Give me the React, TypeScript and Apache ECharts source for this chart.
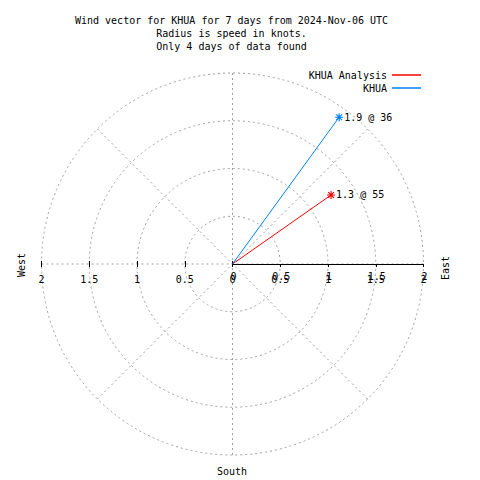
import React, { useEffect, useRef } from 'react';
import * as echarts from 'echarts';

const titleLines = [
  'Wind vector for KHUA for 7 days from 2024-Nov-06 UTC',
  'Radius is speed in knots.',
  'Only 4 days of data found',
];
const seriesNames = ['KHUA Analysis', 'KHUA'];
const speeds = [1.26, 1.9];
const directions = [55, 36];
const seriesColors = ['#ff0000', '#0080ff'];
const radiusMax = 2;
const radiusStep = 0.5;
const spokeStep = 45;
const compassWest = 'West';
const compassEast = 'East';
const compassSouth = 'South';

const FONT = '"DejaVu Sans Mono", "Liberation Mono", monospace';
const GRAY = '#a0a0a0';
const CX = 232.5;
const CY = 264;
const R = 191;

const asterisk =
  'path://M3,0h1v7h-1z M0,3h7v1h-7z M0.6,1.3L1.3,0.6L6.4,5.7L5.7,6.4z M5.7,0.6L6.4,1.3L1.3,6.4L0.6,5.7z';

export default function App() {
  const ref = useRef<HTMLDivElement>(null);
  useEffect(() => {
    document.body.style.margin = '0';
    if (!ref.current) return;
    const chart = echarts.init(ref.current, null, { renderer: 'svg' });
    const dash = { color: GRAY, type: [2, 3] as any, width: 1 };
    const tickStyle = { color: '#000', width: 1 };
    const labelBase = { fontFamily: FONT, fontSize: 10, color: '#000' };

    const fmtAbs = (v: number) => String(Math.abs(v));
    const H = 100;

    const option: any = {
      animation: false,
      backgroundColor: '#fff',
      polar: { center: [CX, CY], radius: R },
      angleAxis: {
        type: 'value',
        min: 0,
        max: 360,
        interval: spokeStep,
        startAngle: 90,
        clockwise: true,
        axisLine: { show: false },
        axisTick: { show: false },
        axisLabel: { show: false },
        splitLine: { show: true, lineStyle: dash },
      },
      radiusAxis: {
        type: 'value',
        min: 0,
        max: radiusMax,
        interval: radiusStep,
        axisLine: { show: false },
        axisTick: { show: false },
        axisLabel: { show: false },
        splitLine: { show: true, lineStyle: dash },
      },
      grid: [
        { left: CX - R, width: R, top: CY - H, height: H },
        { left: CX - R, width: R, top: CY, height: H },
        { left: CX, width: R, top: CY - H, height: H },
        { left: CX + 1, width: R, top: CY, height: H },
      ],
      xAxis: [
        {
          gridIndex: 0, type: 'value', min: -radiusMax, max: 0, interval: radiusStep, position: 'bottom',
          axisLine: { show: false, onZero: false },
          axisTick: { show: true, length: 3, lineStyle: tickStyle },
          axisLabel: { ...labelBase, margin: 10, formatter: (v: number) => (v === 0 ? '' : fmtAbs(v)) },
          splitLine: { show: false },
        },
        {
          gridIndex: 1, type: 'value', min: -radiusMax, max: 0, interval: radiusStep, position: 'top',
          axisLine: { show: false, onZero: false },
          axisTick: { show: true, length: 3, lineStyle: tickStyle },
          axisLabel: { show: false },
          splitLine: { show: false },
        },
        {
          gridIndex: 2, type: 'value', min: 0, max: radiusMax, interval: radiusStep, position: 'bottom',
          axisLine: { show: true, onZero: false, lineStyle: { color: '#000', width: 1 } },
          axisTick: { show: true, length: 3, lineStyle: tickStyle },
          axisLabel: { ...labelBase, margin: 10, formatter: fmtAbs },
          splitLine: { show: false },
        },
        {
          gridIndex: 3, type: 'value', min: 0, max: radiusMax, interval: radiusStep, position: 'top',
          axisLine: { show: false, onZero: false },
          axisTick: { show: false },
          axisLabel: { ...labelBase, margin: -17, formatter: fmtAbs },
          splitLine: { show: false },
        },
      ],
      yAxis: [0, 1, 2, 3].map((g) => ({ gridIndex: g, type: 'value', min: 0, max: 1, show: false })),
      legend: {
        data: seriesNames.map((n) => ({ name: n, icon: 'rect' })),
        orient: 'vertical',
        right: 59,
        top: 70,
        padding: 0,
        align: 'right',
        itemWidth: 29,
        itemHeight: 1.5,
        itemGap: 3,
        selectedMode: false,
        textStyle: { ...labelBase },
      },
      series: seriesNames.map((name, i) => ({
        name,
        type: 'line',
        coordinateSystem: 'polar',
        color: seriesColors[i],
        lineStyle: { color: seriesColors[i], width: 1 },
        itemStyle: { color: seriesColors[i] },
        symbol: asterisk,
        symbolSize: 8,
        data: [
          { value: [0, directions[i]], symbol: 'none' },
          {
            value: [speeds[i], directions[i]],
            label: {
              show: true,
              position: 'right',
              distance: 1,
              ...labelBase,
              formatter: `${speeds[i].toFixed(1)} @ ${directions[i]}`,
            },
          },
        ],
        z: 5,
      })),
      graphic: [
        ...titleLines.map((t, i) => ({
          type: 'text',
          x: 231.5,
          y: 20 + i * 13,
          style: {
            text: t, font: `10px ${FONT}`, fill: '#000',
            textAlign: 'center', textVerticalAlign: 'middle', align: 'center', verticalAlign: 'middle',
          },
        })),
        {
          type: 'text', x: 21, y: 265, rotation: Math.PI / 2,
          style: { text: compassWest, font: `10px ${FONT}`, fill: '#000', textAlign: 'center', textVerticalAlign: 'middle', align: 'center', verticalAlign: 'middle' },
        },
        {
          type: 'text', x: 445, y: 268, rotation: Math.PI / 2,
          style: { text: compassEast, font: `10px ${FONT}`, fill: '#000', textAlign: 'center', textVerticalAlign: 'middle', align: 'center', verticalAlign: 'middle' },
        },
        {
          type: 'text', x: 232, y: 471,
          style: { text: compassSouth, font: `10px ${FONT}`, fill: '#000', textAlign: 'center', textVerticalAlign: 'middle', align: 'center', verticalAlign: 'middle' },
        },
      ],
    };
    chart.setOption(option);
    return () => chart.dispose();
  }, []);
  return <div ref={ref} style={{ width: 480, height: 480 }} />;
}
